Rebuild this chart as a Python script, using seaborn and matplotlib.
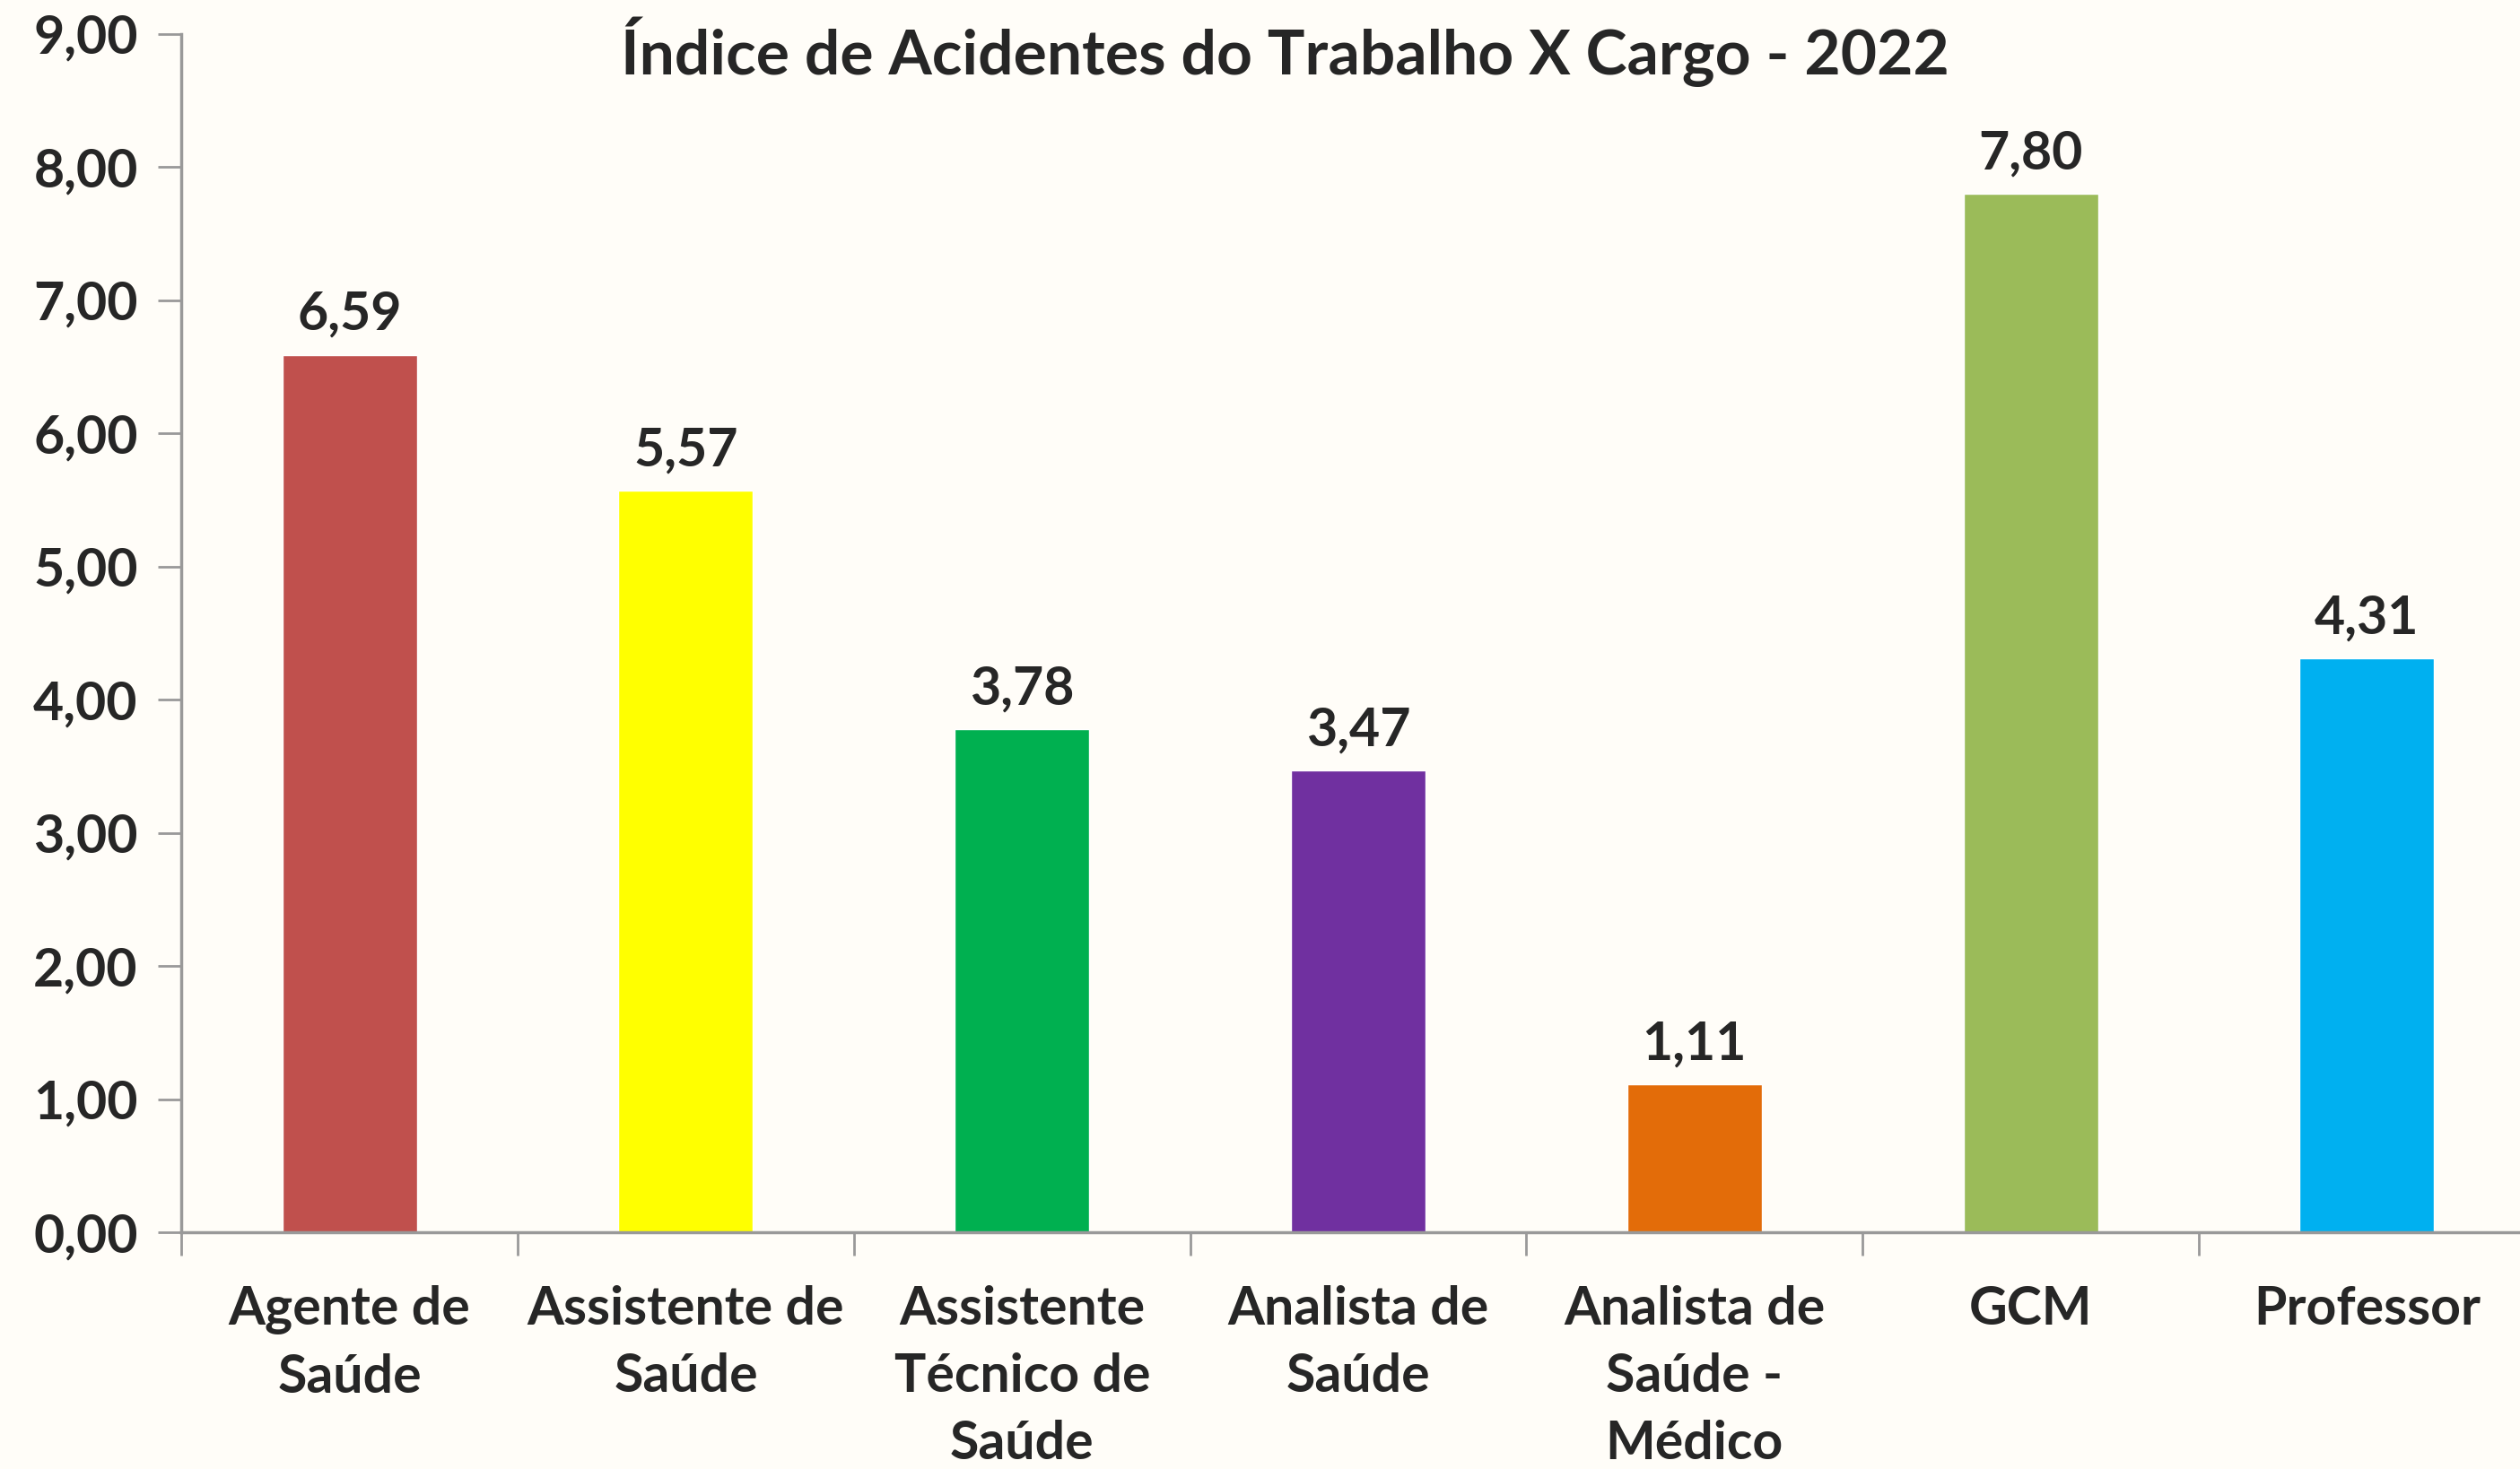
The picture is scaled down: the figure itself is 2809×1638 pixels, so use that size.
import matplotlib
matplotlib.use('Agg')
import matplotlib.pyplot as plt
import numpy as np
import pandas as pd
import seaborn as sns

# dados do gráfico
cargos = ['Agente de\nSaúde', 'Assistente de\nSaúde', 'Assistente\nTécnico de\nSaúde',
          'Analista de\nSaúde', 'Analista de\nSaúde -\nMédico', 'GCM', 'Professor']
indices = [6.59, 5.57, 3.78, 3.47, 1.11, 7.80, 4.31]
cores = ['#C0504D', '#FFFF00', '#00B050', '#7030A0', '#E36C09', '#9BBB59', '#00B0F0']
y_ticks = [0, 1, 2, 3, 4, 5, 6, 7, 8, 9]

df = pd.DataFrame({'cargo': cargos, 'indice': indices})

sns.set_style('white')
plt.rcParams['font.family'] = ['Lato', 'DejaVu Sans']
plt.rcParams['font.weight'] = 'bold'

fundo = '#FFFDF8'
fig = plt.figure(figsize=(28.09, 16.38), dpi=100, facecolor=fundo)
ax = fig.add_axes([0.072, 0.161, 0.934, 0.816])
ax.set_facecolor(fundo)

sns.barplot(data=df, x='cargo', y='indice', hue='cargo', palette=cores,
            legend=False, width=0.4, saturation=1, ax=ax)

for i, v in enumerate(indices):
    ax.text(i, v + 0.12, f'{v:.2f}'.replace('.', ','), ha='center', va='bottom',
            fontsize=42.5, fontweight='bold')

ax.set_ylim(0, 9)
ax.set_xlim(-0.5, 6.5)
ax.set_yticks(y_ticks)
ax.set_yticklabels([f'{t:.2f}'.replace('.', ',') for t in y_ticks], fontsize=42.5, fontweight='bold')
ax.set_xticks(range(len(cargos)))
ax.set_xticklabels(cargos, fontsize=42.5, fontweight='bold', linespacing=1.48, va='top')
ax.set_xticks(np.arange(-0.5, 7, 1), minor=True)
ax.tick_params(axis='x', which='major', bottom=True, length=0, pad=42)
ax.tick_params(axis='x', which='minor', bottom=True, length=19, width=2, color='#999999', direction='out')
ax.tick_params(axis='y', which='major', left=True, length=19, width=2, color='#999999', direction='out', pad=16)
ax.set_xlabel('')
ax.set_ylabel('')

for s in ['top', 'right']:
    ax.spines[s].set_visible(False)
for s in ['left', 'bottom']:
    ax.spines[s].set_color('#999999')
    ax.spines[s].set_linewidth(2.5)

fig.text(0.51, 0.965, 'Índice de Acidentes do Trabalho X Cargo - 2022', ha='center', va='center',
         fontsize=50, fontweight='bold')

fig.savefig('out.png', dpi=100, facecolor=fundo)
